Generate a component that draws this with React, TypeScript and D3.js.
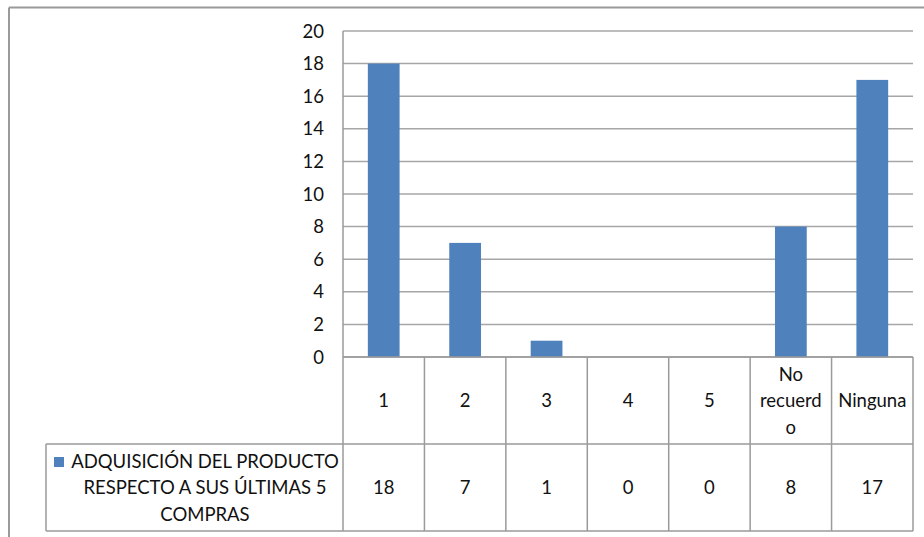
import React from "react";
import * as d3 from "d3";

// Survey answers: how many of the last 5 purchases included the product
const categories = ["1", "2", "3", "4", "5", "No recuerdo", "Ninguna"];
const categoryLabelLines = [["1"], ["2"], ["3"], ["4"], ["5"], ["No", "recuerd", "o"], ["Ninguna"]];
const values = [18, 7, 1, 0, 0, 8, 17];
const yTicks = [0, 2, 4, 6, 8, 10, 12, 14, 16, 18, 20];
const seriesNameLines = ["ADQUISICIÓN DEL PRODUCTO", "RESPECTO A SUS ÚLTIMAS 5", "COMPRAS"];

const W = 924;
const H = 537;
const FONT = "Lato, 'Open Sans', sans-serif";
const FS = 18.5;
const BAR = "#4f81bd";
const GRID = "#a6a6a6";
const LINE = "#9a9a9a";

const plot = { left: 343, right: 913, top: 31, bottom: 357 };
const row1Bottom = 444;
const row2Bottom = 531;
const legendLeft = 46;

export default function App() {
  const x = d3.scaleBand<string>().domain(categories).range([plot.left, plot.right]).padding(0);
  const y = d3.scaleLinear().domain([0, 20]).range([plot.bottom, plot.top]);
  const bw = x.bandwidth();
  const barW = bw * 0.39;
  const lineGap = 26.5;

  return (
    <div style={{ position: "fixed", left: 0, top: 0, width: W, height: H, background: "#fff" }}>
      <svg width={W} height={H} style={{ display: "block" }} fontFamily={FONT} fontSize={FS} fill="#111">
        <rect width={W} height={H} fill="#fff" />
        {/* chart frame */}
        <line x1={9} x2={W} y1={7.5} y2={7.5} stroke={LINE} strokeWidth={2} />
        <line x1={9} x2={9} y1={7.5} y2={H} stroke={LINE} strokeWidth={2} />

        {/* gridlines */}
        {yTicks.map((t) => (
          <line key={"g" + t} x1={plot.left} x2={plot.right} y1={y(t)} y2={y(t)} stroke={GRID} strokeWidth={1.5} />
        ))}
        {/* y axis line */}
        <line x1={plot.left} x2={plot.left} y1={plot.top} y2={plot.bottom} stroke={LINE} strokeWidth={1.5} />
        {/* y tick labels */}
        {yTicks.map((t) => (
          <text key={"t" + t} x={324} y={y(t)} dy="0.36em" textAnchor="end">
            {t}
          </text>
        ))}

        {/* bars */}
        {categories.map((c, i) => (
          <rect
            key={"b" + c}
            x={(x(c) as number) + (bw - barW) / 2}
            y={y(values[i])}
            width={barW}
            height={y(0) - y(values[i])}
            fill={BAR}
          />
        ))}

        {/* data table */}
        <g stroke={LINE} strokeWidth={1.5}>
          <line x1={plot.left} x2={plot.right} y1={plot.bottom} y2={plot.bottom} />
          <line x1={legendLeft} x2={plot.right} y1={row1Bottom} y2={row1Bottom} />
          <line x1={legendLeft} x2={plot.right} y1={row2Bottom} y2={row2Bottom} />
          <line x1={legendLeft} x2={legendLeft} y1={row1Bottom} y2={row2Bottom} />
          {categories.map((c) => (
            <line key={"v" + c} x1={x(c)} x2={x(c)} y1={plot.bottom} y2={row2Bottom} />
          ))}
          <line x1={plot.right} x2={plot.right} y1={plot.bottom} y2={row2Bottom} />
        </g>

        {/* category labels */}
        {categories.map((c, i) => {
          const lines = categoryLabelLines[i];
          const cx = (x(c) as number) + bw / 2;
          const cy = (plot.bottom + row1Bottom) / 2;
          const start = cy - ((lines.length - 1) * lineGap) / 2;
          return (
            <text key={"c" + c} x={cx} textAnchor="middle">
              {lines.map((l, j) => (
                <tspan key={j} x={cx} y={start + j * lineGap} dy="0.36em">
                  {l}
                </tspan>
              ))}
            </text>
          );
        })}

        {/* values row */}
        {categories.map((c, i) => (
          <text
            key={"v" + c}
            x={(x(c) as number) + bw / 2}
            y={(row1Bottom + row2Bottom) / 2}
            dy="0.36em"
            textAnchor="middle"
          >
            {values[i]}
          </text>
        ))}

        {/* legend key */}
        <rect x={54} y={457} width={10} height={10} fill={BAR} />
        {seriesNameLines.map((l, j) => (
          <text key={"l" + j} x={205} y={(row1Bottom + row2Bottom) / 2 + (j - 1) * lineGap} dy="0.36em" textAnchor="middle">
            {l}
          </text>
        ))}
      </svg>
    </div>
  );
}
